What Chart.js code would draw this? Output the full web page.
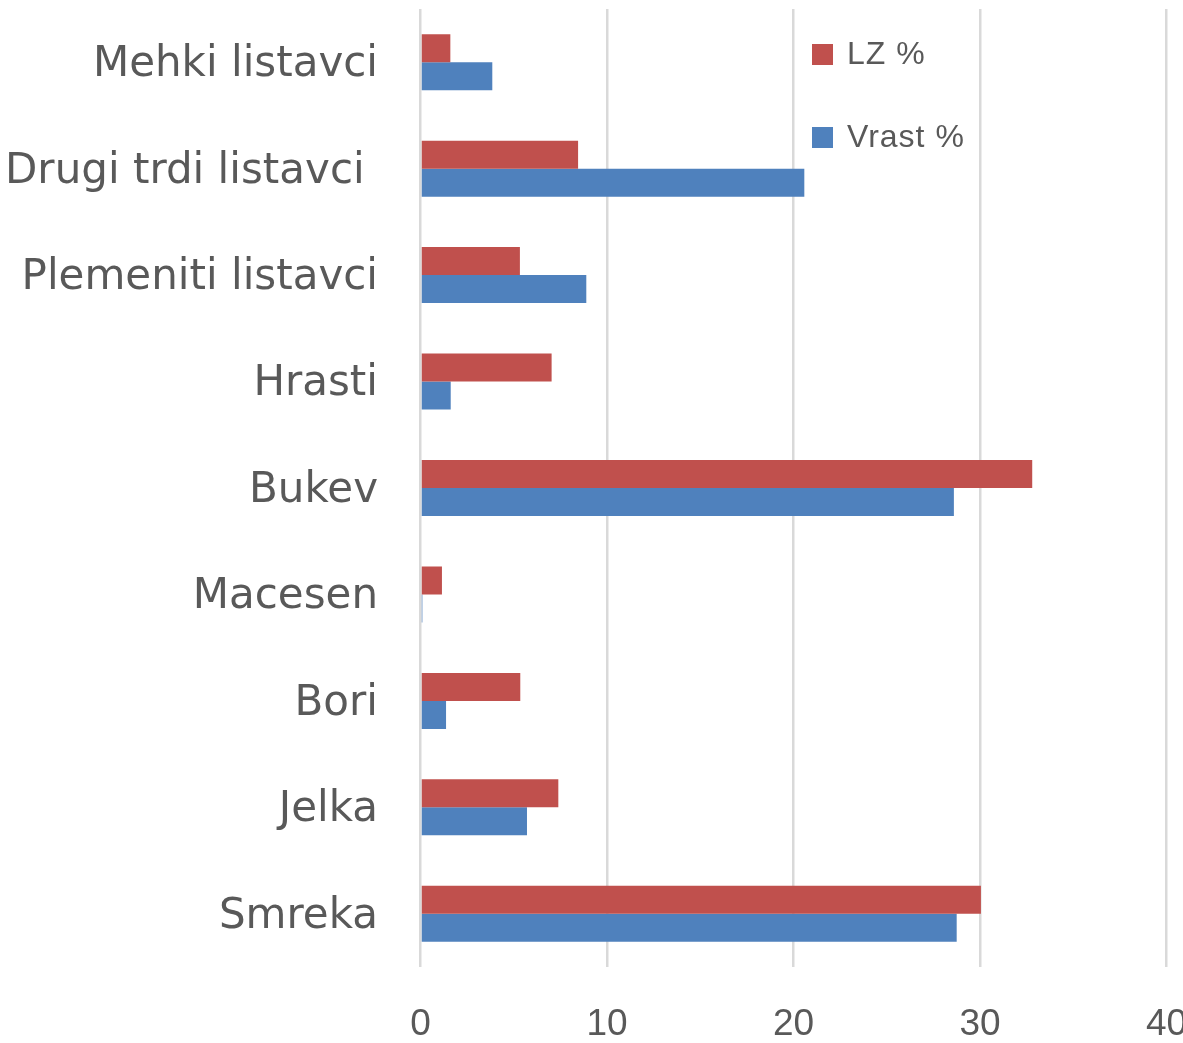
<!DOCTYPE html>
<html>
<head>
<meta charset="utf-8">
<script src="https://cdn.jsdelivr.net/npm/chart.js@4.4.1/dist/chart.umd.min.js"></script>
<style>
  html, body { margin: 0; padding: 0; background: #fff; overflow: hidden; }
  #wrap { position: relative; width: 1250px; height: 1043px; }
</style>
</head>
<body>
<div id="wrap"><canvas id="c" width="1250" height="1043"></canvas></div>
<script>
const categories = ["Mehki listavci", "Drugi trdi listavci ", "Plemeniti listavci", "Hrasti", "Bukev", "Macesen", "Bori", "Jelka", "Smreka"];
const lzValues    = [1.6, 8.45, 5.33, 7.03, 32.8, 1.15, 5.35, 7.39, 30.05];
const vrastValues = [3.85, 20.58, 8.89, 1.62, 28.6, 0.1, 1.37, 5.71, 28.75];
const seriesNames = ["LZ %", "Vrast %"];
const xTicks = [0, 10, 20, 30, 40];

const RED = "#C0504D", BLUE = "#4F81BD", TEXT = "#595959", GRID = "#D9D9D9";

const legendPlugin = {
  id: "insideLegend",
  afterDraw(chart) {
    const ctx = chart.ctx;
    const items = [
      { name: seriesNames[0], color: RED, y: 54.5 },
      { name: seriesNames[1], color: BLUE, y: 137.5 }
    ];
    ctx.save();
    ctx.font = "32px 'Liberation Sans', Arial, sans-serif";
    ctx.textBaseline = "middle";
    ctx.textAlign = "left";
    items.forEach(it => {
      ctx.fillStyle = it.color;
      ctx.fillRect(812, it.y - 10.5, 21, 21);
      ctx.fillStyle = TEXT;
      if ("letterSpacing" in ctx) ctx.letterSpacing = "1px";
      ctx.fillText(it.name, 847, it.y + 1);
    });
    ctx.restore();
  }
};

new Chart(document.getElementById("c"), {
  type: "bar",
  data: {
    labels: categories,
    datasets: [
      { label: seriesNames[0], data: lzValues, backgroundColor: RED, borderWidth: 0 },
      { label: seriesNames[1], data: vrastValues, backgroundColor: BLUE, borderWidth: 0 }
    ]
  },
  options: {
    indexAxis: "y",
    responsive: false,
    animation: false,
    devicePixelRatio: 1,
    categoryPercentage: 0.526,
    barPercentage: 1,
    layout: { padding: { left: 0, right: 83.5, top: 9, bottom: 0 } },
    plugins: { legend: { display: false }, tooltip: { enabled: false } },
    scales: {
      x: {
        type: "linear",
        min: 0, max: 40,
        afterBuildTicks: (scale) => { scale.ticks = xTicks.map(v => ({ value: v })); },
        afterFit: (scale) => { scale.height = 76; scale.paddingLeft = 0; scale.paddingRight = 0; },
        grid: { color: GRID, lineWidth: 2.5, drawTicks: false },
        border: { display: false },
        ticks: {
          color: TEXT,
          padding: 36,
          maxRotation: 0,
          font: { family: "'Liberation Sans Narrow', 'Liberation Sans', Arial, sans-serif", size: 37 }
        }
      },
      y: {
        type: "category",
        afterFit: (scale) => { scale.width = 420.5; scale.paddingTop = 0; scale.paddingBottom = 0; },
        grid: { display: false, drawTicks: false },
        border: { display: false },
        ticks: {
          color: TEXT,
          padding: 42.5,
          labelOffset: 3,
          autoSkip: false,
          font: { family: "'DejaVu Sans', sans-serif", size: 42 }
        }
      }
    }
  },
  plugins: [legendPlugin]
});
</script>
</body>
</html>
